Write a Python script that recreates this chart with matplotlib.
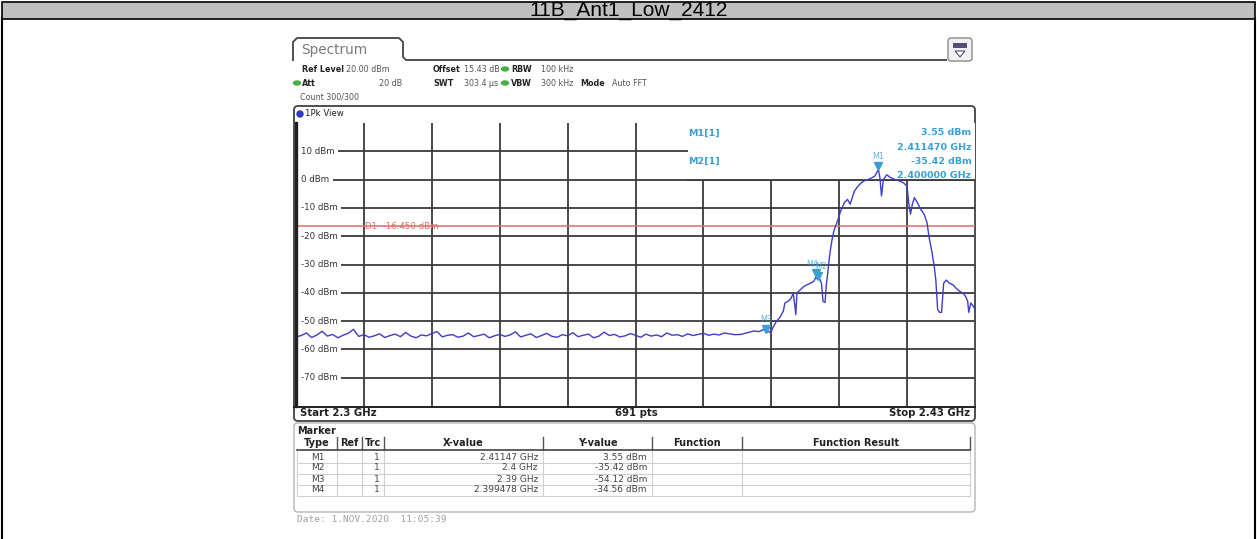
import numpy as np
import matplotlib.pyplot as plt
from matplotlib.patches import Rectangle, FancyBboxPatch, Polygon, Ellipse
from matplotlib.transforms import offset_copy

W, H = 1257, 539

title = "11B_Ant1_Low_2412"

# sweep settings (GHz / dBm)
f_start, f_stop = 2.3, 2.43
ref_level, y_bottom = 20, -80
y_ticks = [10, 0, -10, -20, -30, -40, -50, -60, -70]
display_line = -16.45

# trace: flat noise floor, then the occupied band
noise_mhz = np.arange(2300.0, 2385.0, 1.0)
noise_dbm = [-55.6, -55.1, -54.2, -55.8, -54.9, -53.6, -55.3, -54.7, -55.9, -55.0,
             -54.3, -52.9, -55.4, -54.8, -55.7, -55.2, -54.5, -55.8, -55.1, -54.6,
             -55.5, -54.0, -55.3, -55.9, -54.9, -55.2, -54.4, -53.7, -55.6, -55.0,
             -54.8, -55.7, -55.3, -54.2, -55.5, -55.1, -54.6, -55.9, -55.2, -54.7,
             -55.4, -54.9, -53.8, -55.6, -55.0, -54.5, -55.8, -55.1, -54.3, -55.4,
             -55.7, -54.8, -55.2, -54.1, -55.5, -55.0, -54.6, -55.9, -55.3, -53.9,
             -55.1, -54.7, -55.6, -55.2, -54.4, -55.0, -55.7, -54.6, -55.3, -54.9,
             -55.5, -54.2, -55.0, -54.8, -55.4, -54.5, -55.1, -54.7, -54.3, -55.0,
             -54.6, -54.9, -54.2, -54.5, -54.8]
band_mhz = [2385.2, 2386.4, 2387.7, 2388.7, 2389.6, 2390.0, 2390.4, 2390.9, 2391.3, 2392.0,
            2392.6, 2393.3, 2393.6, 2394.2, 2394.8, 2395.2, 2395.4, 2395.7, 2395.9, 2396.5,
            2397.2, 2397.8, 2398.5, 2399.1, 2399.5, 2400.0, 2400.3, 2400.6, 2400.9, 2401.3,
            2401.5, 2401.8, 2402.2, 2402.6, 2403.0, 2403.7, 2404.3, 2405.0, 2405.6, 2406.1,
            2406.5, 2406.9, 2407.6, 2408.2, 2408.9, 2409.5, 2410.2, 2410.8, 2411.5, 2411.8,
            2412.1, 2412.45, 2413.1, 2413.75, 2414.7, 2415.7, 2416.35, 2417.0, 2417.3, 2417.65,
            2418.0, 2418.4, 2418.95, 2419.6, 2420.25, 2420.8, 2421.2, 2421.7, 2422.2, 2422.5,
            2422.85, 2423.2, 2423.6, 2424.0, 2424.5, 2425.1, 2425.8, 2426.4, 2427.1, 2427.7,
            2428.2, 2428.6, 2428.8, 2429.2, 2429.7, 2430.0]
band_dbm = [-54.7, -54.1, -53.5, -53.7, -52.9, -54.1, -53.6, -54.1, -52.3, -50.0,
            -48.8, -46.5, -43.6, -43.0, -41.9, -40.1, -43.0, -47.7, -40.1, -39.0,
            -37.8, -37.2, -36.6, -36.0, -34.6, -35.4, -35.2, -36.6, -43.0, -43.4,
            -37.8, -33.1, -26.2, -21.5, -18.0, -14.5, -11.0, -8.1, -7.0, -8.7,
            -6.4, -4.1, -2.3, -1.2, -0.3, 0.0, 0.6, 1.2, 3.55, 0.6,
            -5.8, 0.0, 1.7, 0.8, 0.0, -0.6, -1.2, -2.3, -8.1, -12.2,
            -8.7, -6.4, -8.1, -10.5, -12.2, -15.1, -20.3, -25.0, -30.8, -35.5,
            -45.9, -46.9, -46.9, -36.6, -35.5, -36.6, -37.2, -38.4, -39.5, -40.1,
            -41.3, -43.0, -46.9, -43.6, -44.8, -45.9]

# marker table
marker_names = ["M1", "M2", "M3", "M4"]
marker_ghz = [2.41147, 2.4, 2.39, 2.399478]
marker_dbm = [3.55, -35.42, -54.12, -34.56]
marker_xtxt = ["2.41147 GHz", "2.4 GHz", "2.39 GHz", "2.399478 GHz"]
marker_ytxt = ["3.55 dBm", "-35.42 dBm", "-54.12 dBm", "-34.56 dBm"]
table_cols = ["Type", "Ref", "Trc", "X-value", "Y-value", "Function", "Function Result"]

GRID = "#3a3a3a"
TRACE = "#3d3dc9"
MK = "#3a9fd5"
RED = "#e56a6a"
GREEN = "#45b045"
FS = 5.8

fig = plt.figure(figsize=(W / 100, H / 100), dpi=100)
bg = fig.add_axes([0, 0, 1, 1])
bg.set_xlim(0, W)
bg.set_ylim(H, 0)
bg.axis("off")

# ---- report frame and title bar ----
bg.add_patch(Rectangle((2, 2), W - 4, 17, facecolor="#c0c0c0", edgecolor="black", lw=1.2))
bg.plot([2, 2], [19, H], color="black", lw=1.5)
bg.plot([W - 2, W - 2], [19, H], color="black", lw=1.5)
bg.text(W / 2, 11, title, ha="center", va="center", fontsize=15,
        family=["Liberation Sans Narrow", "Liberation Sans", "DejaVu Sans"])

# ---- spectrum tab + icon ----
bg.plot([293, 293, 297, 399, 403, 403, 406, 946],
        [60, 42, 38, 38, 42, 57, 60, 60], color="#505050", lw=1.4)
bg.text(301, 50, "Spectrum", fontsize=9.8, color="#7a7a7a", va="center")
bg.add_patch(FancyBboxPatch((948, 38), 24, 23, boxstyle="round,pad=0,rounding_size=3",
                            facecolor="#f2f2f2", edgecolor="#8a8a8a", lw=1))
bg.add_patch(Rectangle((953, 43), 14, 5, facecolor="#505078", edgecolor="none"))
bg.add_patch(Polygon([[955, 51], [965, 51], [960, 57]], closed=True, facecolor="white",
                     edgecolor="#505078", lw=0.8))

# ---- settings header ----
def t(x, y, s, bold=False, **kw):
    bg.text(x, y, s, fontsize=kw.pop("fontsize", FS), va="center",
            fontweight="bold" if bold else "normal",
            color=kw.pop("color", "#222222"), **kw)

t(302, 69, "Ref Level", True)
t(346, 69, "20.00 dBm", color="#555555")
t(433, 69, "Offset", True)
t(464, 69, "15.43 dB", color="#555555")
t(511, 69, "RBW", True)
t(541, 69, "100 kHz", color="#555555")
t(302, 83, "Att", True)
t(402, 83, "20 dB", color="#555555", ha="right")
t(433, 83, "SWT", True)
t(464, 83, "303.4 \u00b5s", color="#555555")
t(511, 83, "VBW", True)
t(541, 83, "300 kHz", color="#555555")
t(580, 83, "Mode", True)
t(612, 83, "Auto FFT", color="#555555")
t(300, 97, "Count 300/300", color="#555555")
for ex, ey in [(505, 69), (297, 83), (505, 83)]:
    bg.add_patch(Ellipse((ex, ey), 7, 4, color=GREEN))

# ---- graph box ----
bg.add_patch(FancyBboxPatch((294, 106), 681, 315, boxstyle="round,pad=0,rounding_size=4",
                            facecolor="none", edgecolor="#404040", lw=1.3, zorder=5))
bg.plot([294, 975], [406.5, 406.5], color="#202020", lw=1.4, zorder=5)
bg.add_patch(Ellipse((300, 114), 6, 6, color="#2a3ac8"))
t(305, 114, "1Pk View", fontsize=6.2)
bg.text(300, 413, "Start 2.3 GHz", fontsize=7.3, fontweight="bold", va="center", color="#222222")
bg.text(636, 413, "691 pts", fontsize=7.3, fontweight="bold", va="center", ha="center", color="#222222")
bg.text(970, 413, "Stop 2.43 GHz", fontsize=7.3, fontweight="bold", va="center", ha="right", color="#222222")

# ---- trace axes ----
ax = fig.add_axes([296 / W, 1 - 406 / H, (975 - 296) / W, (406 - 123) / H])
ax.set_xlim(f_start, f_stop)
ax.set_ylim(y_bottom, ref_level)
ax.axis("off")
ax.patch.set_alpha(0)

div = (f_stop - f_start) / 10
for k in range(1, 10):
    ax.axvline(f_start + k * div, color=GRID, lw=1.3, zorder=1)
ytr = ax.get_yaxis_transform()
for v in y_ticks:
    ax.axhline(v, color=GRID, lw=1.3, zorder=1)
    ax.text(0.008, v, f"{v} dBm", transform=ytr, fontsize=6.2, va="center", color="#333333",
            zorder=2, bbox=dict(boxstyle="square,pad=0.35", facecolor="white", edgecolor="none"))
# thick left edge of the diagram, drawn over the label backgrounds
ax.axvline(f_start, color="#202020", lw=2.4, zorder=5, clip_on=False)

# white area behind the marker read-out
ax.add_patch(Rectangle((0.577, 0.8), 0.423, 0.2, transform=ax.transAxes,
                       facecolor="white", edgecolor="none", zorder=1.5))
ax.axhline(0, xmin=0.577, xmax=1, color=GRID, lw=1.3, zorder=1.6)

ax.axhline(display_line, color=RED, lw=1.1, zorder=2.5)
ax.text(f_start + div + 0.0003, display_line, "D1  -16.450 dBm", fontsize=6.2, color=RED,
        va="center", zorder=2.6)

freq = np.concatenate([noise_mhz, band_mhz]) / 1000
level = np.concatenate([noise_dbm, band_dbm])
ax.plot(freq, level, color=TRACE, lw=1.0, zorder=3, clip_on=True)

# marker triangles and labels (M2 / M4 sit on top of each other, as on screen)
tri = offset_copy(ax.transData, fig=fig, x=0, y=4, units="dots")
for name, mx, my in zip(marker_names, marker_ghz, marker_dbm):
    ax.plot(mx, my, marker="v", ms=6, color=MK, transform=tri, zorder=4, clip_on=False)
    dx = {"M2": 3, "M4": -3}.get(name, 0)
    lab = offset_copy(ax.transData, fig=fig, x=dx, y=13, units="dots")
    ax.text(mx, my, name, transform=lab, fontsize=5.8, color=MK, ha="center", va="center",
            zorder=4, alpha=0.8)

# marker read-out
atr = ax.transAxes
mfs = 6.8
ax.text(0.578, 0.965, "M1[1]", transform=atr, fontsize=mfs, fontweight="bold", color=MK, va="center", zorder=4)
ax.text(0.578, 0.865, "M2[1]", transform=atr, fontsize=mfs, fontweight="bold", color=MK, va="center", zorder=4)
ax.text(0.995, 0.965, "3.55 dBm", transform=atr, fontsize=mfs, fontweight="bold", color=MK, va="center", ha="right", zorder=4)
ax.text(0.995, 0.915, "2.411470 GHz", transform=atr, fontsize=mfs, fontweight="bold", color=MK, va="center", ha="right", zorder=4)
ax.text(0.995, 0.865, "-35.42 dBm", transform=atr, fontsize=mfs, fontweight="bold", color=MK, va="center", ha="right", zorder=4)
ax.text(0.995, 0.815, "2.400000 GHz", transform=atr, fontsize=mfs, fontweight="bold", color=MK, va="center", ha="right", zorder=4)

# ---- marker table ----
bg.add_patch(FancyBboxPatch((294, 423), 681, 89, boxstyle="round,pad=0,rounding_size=4",
                            facecolor="none", edgecolor="#b5b5b5", lw=1))
bg.text(297, 431, "Marker", fontsize=7, fontweight="bold", va="center", color="#222222")
col_edges = [297, 337, 362, 384, 543, 652, 742, 970]
for x in col_edges[1:]:
    bg.plot([x, x], [437, 449], color="#555555", lw=1)
for x in col_edges:
    bg.plot([x, x], [451, 495], color="#cfcfcf", lw=0.8)
bg.plot([297, 970], [450, 450], color="#444444", lw=1.2)
for i, c in enumerate(table_cols):
    bg.text((col_edges[i] + col_edges[i + 1]) / 2, 443, c, fontsize=7, fontweight="bold",
            ha="center", va="center", color="#222222")
row_y = [457, 468, 479, 490]
for i, y in enumerate(row_y):
    bg.plot([297, 970], [y + 5.5, y + 5.5], color="#cfcfcf", lw=0.8)
    bg.text(318, y, marker_names[i], fontsize=6.5, ha="center", va="center", color="#444444")
    bg.text(380, y, "1", fontsize=6.5, ha="right", va="center", color="#444444")
    bg.text(538, y, marker_xtxt[i], fontsize=6.5, ha="right", va="center", color="#444444")
    bg.text(647, y, marker_ytxt[i], fontsize=6.5, ha="right", va="center", color="#444444")

bg.text(297, 520, "Date: 1.NOV.2020  11:05:39", fontsize=6.8, family="DejaVu Sans Mono",
        va="center", color="#a0a0a0")

fig.savefig("out.png", dpi=100)
